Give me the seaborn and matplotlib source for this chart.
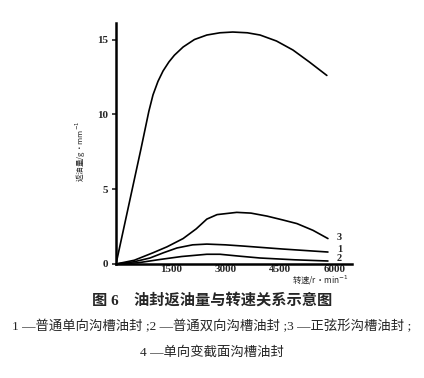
import pandas as pd
import matplotlib
matplotlib.use("Agg")
import matplotlib.pyplot as plt
import seaborn as sns

# Curve data (rpm, oil return)
rpm_4 = [0, 685, 900, 1014, 1150, 1290, 1450, 1600, 1840, 2150, 2490, 2850, 3200, 3600, 3950, 4400, 4850, 5300, 5780]
oil_4 = [0, 7.7, 10.2, 11.3, 12.2, 12.9, 13.5, 13.95, 14.5, 15.0, 15.3, 15.45, 15.5, 15.45, 15.3, 14.9, 14.3, 13.5, 12.6]

rpm_3 = [0, 500, 1014, 1400, 1840, 2200, 2490, 2770, 3310, 3700, 4140, 4560, 4960, 5400, 5810]
oil_3 = [0, 0.25, 0.75, 1.15, 1.7, 2.35, 3.0, 3.3, 3.45, 3.4, 3.2, 2.95, 2.7, 2.25, 1.7]

rpm_1 = [0, 500, 930, 1300, 1670, 2100, 2490, 3000, 3480, 4570, 5810]
oil_1 = [0, 0.15, 0.4, 0.75, 1.07, 1.28, 1.33, 1.28, 1.2, 1.0, 0.8]

rpm_2 = [0, 600, 1200, 1800, 2490, 2850, 3400, 3950, 4900, 5810]
oil_2 = [0, 0.08, 0.3, 0.5, 0.65, 0.65, 0.52, 0.4, 0.28, 0.2]

x_ticks = [1500, 3000, 4500, 6000]
y_ticks = [0, 5, 10, 15]

title = "图 6　油封返油量与转速关系示意图"
legend_line1 = "1 —普通单向沟槽油封 ;2 —普通双向沟槽油封 ;3 —正弦形沟槽油封 ;"
legend_line2 = "4 —单向变截面沟槽油封"

SERIF = ["Liberation Serif", "Noto Sans CJK SC"]
CJK = ["Noto Sans CJK SC", "DejaVu Sans"]


def main():
    sns.set_style("white")
    plt.rcParams["font.family"] = CJK

    fig = plt.figure(figsize=(4.24, 3.78), dpi=100)
    ax = fig.add_axes([0.2736, 0.3016, 0.5566, 0.6374])

    for xs, ys in [(rpm_4, oil_4), (rpm_3, oil_3), (rpm_1, oil_1), (rpm_2, oil_2)]:
        df = pd.DataFrame({"rpm": xs, "oil": ys})
        sns.lineplot(data=df, x="rpm", y="oil", ax=ax, color="black", lw=1.2, sort=False)

    # curve numbers
    ax.text(6050, 1.75, "3", fontsize=7.5, fontweight="bold", family=SERIF, va="center")
    ax.text(6050, 0.95, "1", fontsize=7.5, fontweight="bold", family=SERIF, va="center")
    ax.text(6050, 0.35, "2", fontsize=7.5, fontweight="bold", family=SERIF, va="center")

    ax.set_xlim(0, 6470)
    ax.set_ylim(0, 16.1)
    ax.set_xticks(x_ticks)
    ax.set_yticks(y_ticks)
    ax.set_xticklabels([str(t) for t in x_ticks], family=SERIF, fontsize=8, fontweight="bold")
    ax.set_yticklabels([str(t) for t in y_ticks], family=SERIF, fontsize=8, fontweight="bold")
    ax.tick_params(axis="y", length=3, width=1.2, pad=3, direction="out", left=True)
    ax.tick_params(axis="x", length=0, pad=0.5)
    ax.set_xlabel("")
    ax.set_ylabel("")

    for side in ["top", "right"]:
        ax.spines[side].set_visible(False)
    for side in ["left", "bottom"]:
        ax.spines[side].set_color("black")
        ax.spines[side].set_linewidth(1.8)

    # axis titles
    fig.text(0.19, 0.60, "返油量/g·mm$^{-1}$", rotation=90, fontsize=5.5,
             ha="center", va="center")
    fig.text(0.755, 0.258, "转速/r·min$^{-1}$", fontsize=6, ha="center", va="center")

    # caption
    fig.text(0.5, 0.205, title, fontsize=11, fontweight="bold", ha="center", va="center",
             family=SERIF)
    fig.text(0.5, 0.135, legend_line1, fontsize=9.6, ha="center", va="center", family=SERIF)
    fig.text(0.5, 0.068, legend_line2, fontsize=9.6, ha="center", va="center", family=SERIF)

    fig.savefig("out.png", dpi=100, facecolor="white")
    plt.close(fig)


if __name__ == "__main__":
    main()
